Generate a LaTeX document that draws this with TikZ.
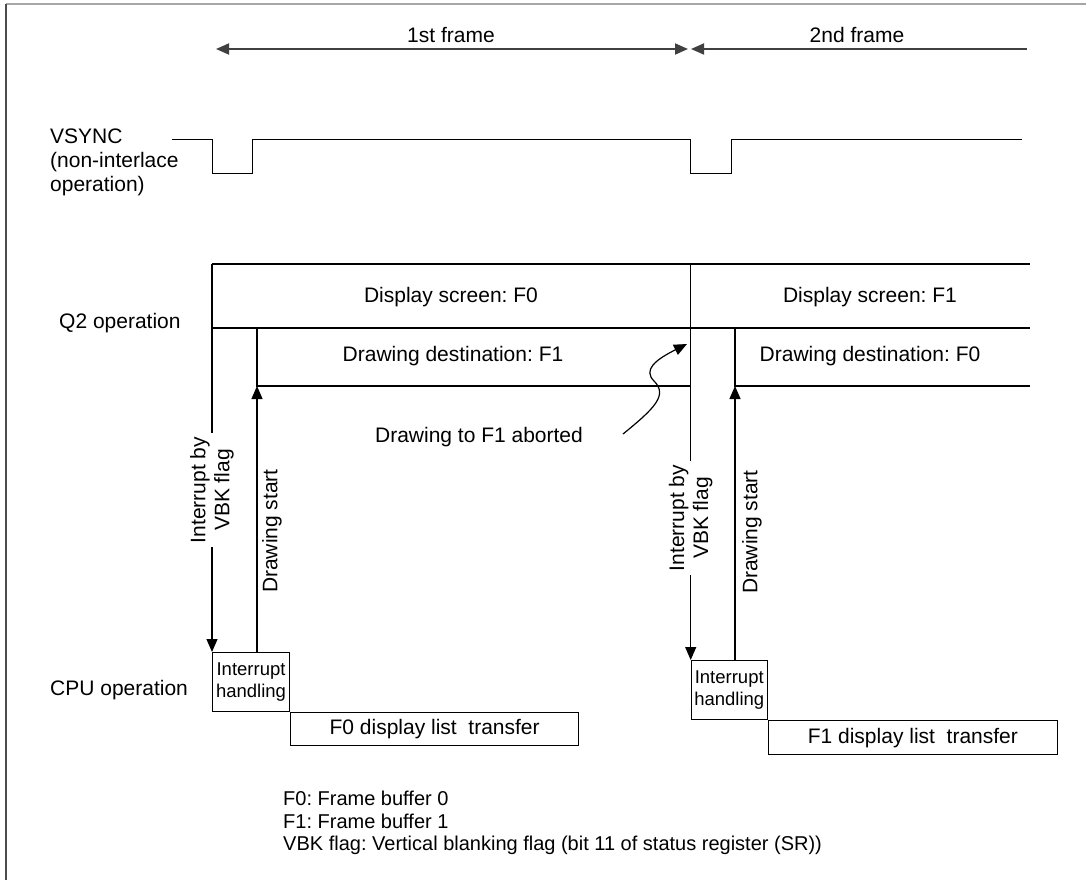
\documentclass[tikz,border=0pt]{standalone}
\usepackage{fontspec}
\setmainfont{Liberation Sans}
\usetikzlibrary{arrows.meta}
\frenchspacing
\begin{document}
\begin{tikzpicture}[x=1pt,y=-1pt,
  ln/.style={line width=1.1pt,black},
  tipend/.style={-{Triangle[length=13pt,width=11pt]}},
  toparr/.style={line width=1.8pt,black!75},
  lbl/.style={font=\fontsize{21}{24}\selectfont\frenchspacing, inner sep=0pt},
  vlbl/.style={lbl, rotate=90, align=center, fill=white, inner sep=4pt},
  slbl/.style={lbl, rotate=90},
  ibox/.style={draw, line width=1.1pt, inner sep=0pt, align=center,
    font=\fontsize{18.5}{22}\selectfont, anchor=north west},
  tbox/.style={draw, line width=1.1pt, inner sep=0pt,
    font=\fontsize{21}{24}\selectfont, anchor=north west}]
\useasboundingbox (0,0) rectangle (1086,880);
% frame
\draw[black!35, line width=2pt] (6,4) -- (1086,4);
\draw[black!70, line width=1.3pt] (6,4) -- (6,880);

% top frame arrows
\coordinate (f1l) at (216,49);
\coordinate (f1r) at (688,49);
\coordinate (f2l) at (691,49);
\coordinate (f2r) at (1027,49);
\draw[toparr, {Triangle[length=13pt,width=11pt]}-{Triangle[length=13pt,width=11pt]}] (f1l) -- (f1r);
\draw[toparr, {Triangle[length=13pt,width=11pt]}-] (f2l) -- (f2r);
\node[lbl] (t1) at (451,35) {1st frame};
\node[lbl] (t2) at (857,35) {2nd frame};

% VSYNC
\node[lbl, align=left, anchor=west] (vs) at (50,162) {VSYNC\\(non-interlace\\operation)};
\draw[line width=1pt] (172,139) -| (212,173) -| (252,139) -| (690.7,173) -| (731,139) -- (1022,139);

% row labels
\node[lbl, anchor=west] (q2) at (59,323) {Q2 operation};
\node[lbl, anchor=west] (cpu) at (50,690) {CPU operation};

% CPU boxes
\node[ibox, minimum width=77pt, minimum height=59pt] (ib1) at (212,652) {Interrupt\\handling};
\node[tbox, minimum width=288pt, minimum height=33pt] (tb1) at (ib1.south east) {F0 display list\ \ transfer};
\node[ibox, minimum width=76pt, minimum height=59pt] (ib2) at (690.7,660) {Interrupt\\handling};
\node[tbox, minimum width=289pt, minimum height=34pt] (tb2) at (ib2.south east) {F1 display list\ \ transfer};

% Q2 rows
\coordinate (a1) at (212,264);
\coordinate (a2) at (690.7,264);
\draw[ln] (a1) -- (1030,264);
\draw[ln] (212,328) -- (1030,328);
\draw[ln] (257,328) -- (257,386) -- (690.7,386);
\draw[ln] (735,328) -- (735,386) -- (1030,386);
\node[lbl] (ds0) at (451,297) {Display screen: F0};
\node[lbl] (ds1) at (870,297) {Display screen: F1};
\node[lbl] (dd1) at (453,356) {Drawing destination: F1};
\node[lbl] (dd0) at (870,356) {Drawing destination: F0};

% interrupt arrows
\draw[ln, tipend] (a1) -- (ib1.north west);
\draw[ln, tipend] (a2) -- (ib2.north west);
\node[vlbl] (il1) at (212,490) {Interrupt by\\VBK flag};
\node[vlbl] (il2) at (690.7,518) {Interrupt by\\VBK flag};

% drawing start arrows
\coordinate (d1) at (257,386);
\coordinate (d2) at (735,386);
\draw[ln, tipend] (ib1.north -| d1) -- (d1);
\draw[ln, tipend] (ib2.north -| d2) -- (d2);
\node[slbl] (ds1l) at (272,531) {Drawing start};
\node[slbl] (ds2l) at (752,532) {Drawing start};

% aborted
\node[lbl] (ab) at (479,437) {Drawing to F1 aborted};
\coordinate (ws) at (623,434);
\coordinate (we) at (687,344);
\draw[line width=1.2pt, tipend] (ws) .. controls (655,408) and (668,395) .. (654,381) .. controls (643,370) and (655,360) .. (we);

% legend
\node[font=\fontsize{20}{22.5}\selectfont\frenchspacing, inner sep=0pt, align=left, anchor=west] (leg) at (283,823)
  {F0: Frame buffer 0\\F1: Frame buffer 1\\VBK flag: Vertical blanking flag (bit 11 of status register (SR))};
\end{tikzpicture}
\end{document}
